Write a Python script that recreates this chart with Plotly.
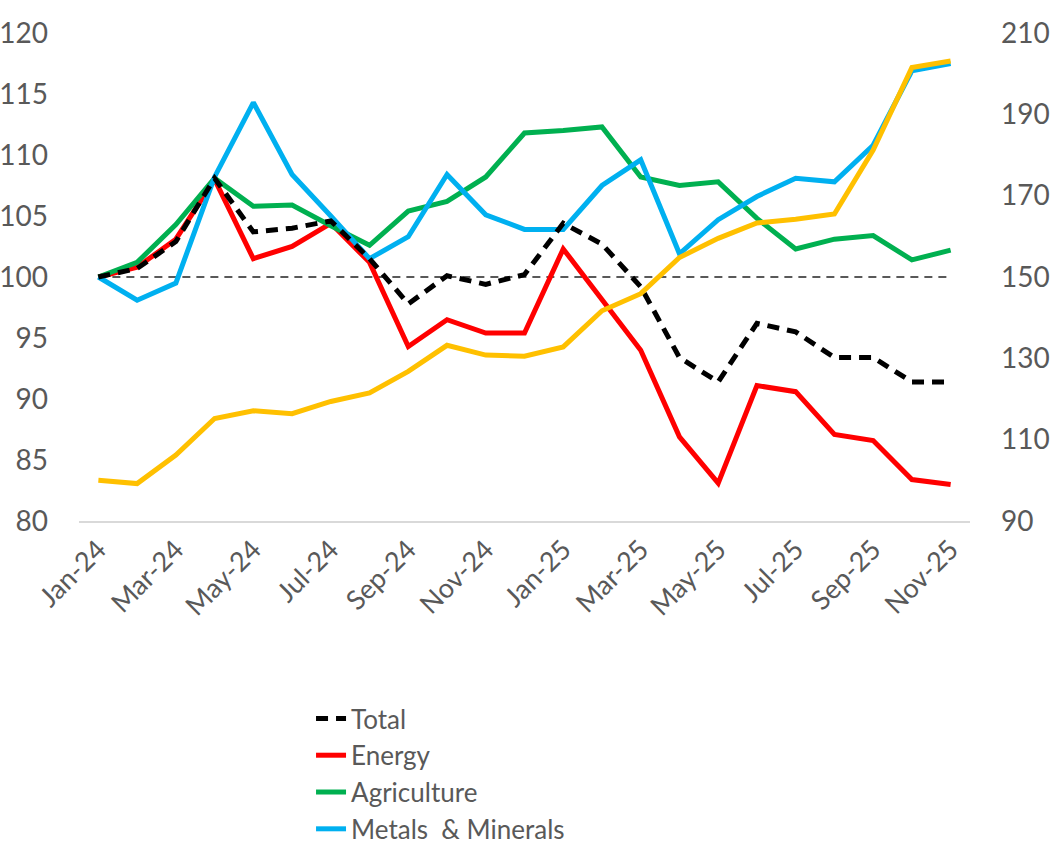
import plotly.graph_objects as go

months = ["Jan-24", "Feb-24", "Mar-24", "Apr-24", "May-24", "Jun-24", "Jul-24", "Aug-24",
          "Sep-24", "Oct-24", "Nov-24", "Dec-24", "Jan-25", "Feb-25", "Mar-25", "Apr-25",
          "May-25", "Jun-25", "Jul-25", "Aug-25", "Sep-25", "Oct-25", "Nov-25"]

total = [100, 100.7, 102.9, 108.1, 103.7, 104.0, 104.6, 101.5, 97.8, 100.1, 99.4, 100.2,
         104.4, 102.7, 99.2, 93.4, 91.4, 96.2, 95.5, 93.4, 93.4, 91.4, 91.4]
energy = [100, 100.8, 103.1, 108.0, 101.5, 102.5, 104.4, 101.2, 94.3, 96.5, 95.4, 95.4,
          102.3, 98.2, 94.0, 86.9, 83.1, 91.1, 90.6, 87.1, 86.6, 83.4, 83.0]
agriculture = [100, 101.2, 104.3, 108.1, 105.8, 105.9, 104.2, 102.6, 105.4, 106.2, 108.2, 111.8,
               112.0, 112.3, 108.2, 107.5, 107.8, 104.8, 102.3, 103.1, 103.4, 101.4, 102.2]
metals = [100, 98.1, 99.5, 108.2, 114.3, 108.4, 105.0, 101.5, 103.3, 108.4, 105.1, 103.9,
          103.9, 107.5, 109.6, 101.9, 104.7, 106.6, 108.1, 107.8, 110.8, 116.9, 117.5]
# yellow series, plotted on the right-hand axis (not in the legend)
precious = [100.0, 99.2, 106.2, 115.2, 117.1, 116.4, 119.4, 121.5, 126.8, 133.2, 130.8, 130.5,
            132.8, 141.7, 145.9, 154.8, 159.5, 163.3, 164.2, 165.5, 181.2, 201.5, 203.1]

base_level = 100
label_months = months[::2]

FONT = "Lato"
GREY = "#595959"

fig = go.Figure()

# reference line at 100
fig.add_trace(go.Scatter(x=[months[0], months[-1]], y=[base_level, base_level], mode="lines",
                         line=dict(color=GREY, width=2, dash="8px,6px"),
                         showlegend=False, hoverinfo="skip"))

fig.add_trace(go.Scatter(x=months, y=energy, name="Energy", mode="lines",
                         line=dict(color="#FF0000", width=5), legendgroup="b", legendrank=2))
fig.add_trace(go.Scatter(x=months, y=agriculture, name="Agriculture", mode="lines",
                         line=dict(color="#00B050", width=5), legendgroup="c", legendrank=3))
fig.add_trace(go.Scatter(x=months, y=metals, name="Metals\u00a0 & Minerals", mode="lines",
                         line=dict(color="#00B0F0", width=5), legendgroup="d", legendrank=4))
fig.add_trace(go.Scatter(x=months, y=total, name="Total", mode="lines",
                         line=dict(color="#000000", width=5, dash="12px,8px"),
                         legendgroup="a", legendrank=1))
fig.add_trace(go.Scatter(x=months, y=precious, name="Precious Metals (RHS)", mode="lines",
                         line=dict(color="#FFC000", width=5), yaxis="y2", showlegend=False))

fig.update_layout(
    width=1063, height=851,
    margin=dict(l=79, r=93, t=33, b=330, autoexpand=False),
    plot_bgcolor="white", paper_bgcolor="white",
    font=dict(family=FONT, color=GREY, size=28),
    xaxis=dict(type="category", categoryorder="array", categoryarray=months,
               range=[-0.5, 22.5], tickmode="array", tickvals=label_months,
               ticktext=label_months, tickangle=-45, showgrid=False, zeroline=False,
               showline=True, linecolor="#D9D9D9", linewidth=2, ticks="", automargin=False,
               tickfont=dict(size=27, color=GREY)),
    yaxis=dict(range=[80, 120], dtick=5, showgrid=False, zeroline=False, ticks="",
               automargin=False, ticklabelstandoff=30, tickfont=dict(size=28, color=GREY)),
    yaxis2=dict(range=[90, 210], tick0=90, dtick=20, overlaying="y", side="right",
                showgrid=False, zeroline=False, ticks="", automargin=False,
                ticklabelstandoff=30, tickfont=dict(size=28, color=GREY)),
    legend=dict(xref="container", yref="container", x=0.2926, y=0.1833,
                xanchor="left", yanchor="top", orientation="v",
                traceorder="grouped", tracegroupgap=0,
                font=dict(size=26, color=GREY, family=FONT), bgcolor="rgba(0,0,0,0)"),
)

# drop the default 8px page margin so the figure fills the window exactly
fig.write_html("out.html", config={"displayModeBar": False},
               post_script="document.body.style.margin='0px';")
